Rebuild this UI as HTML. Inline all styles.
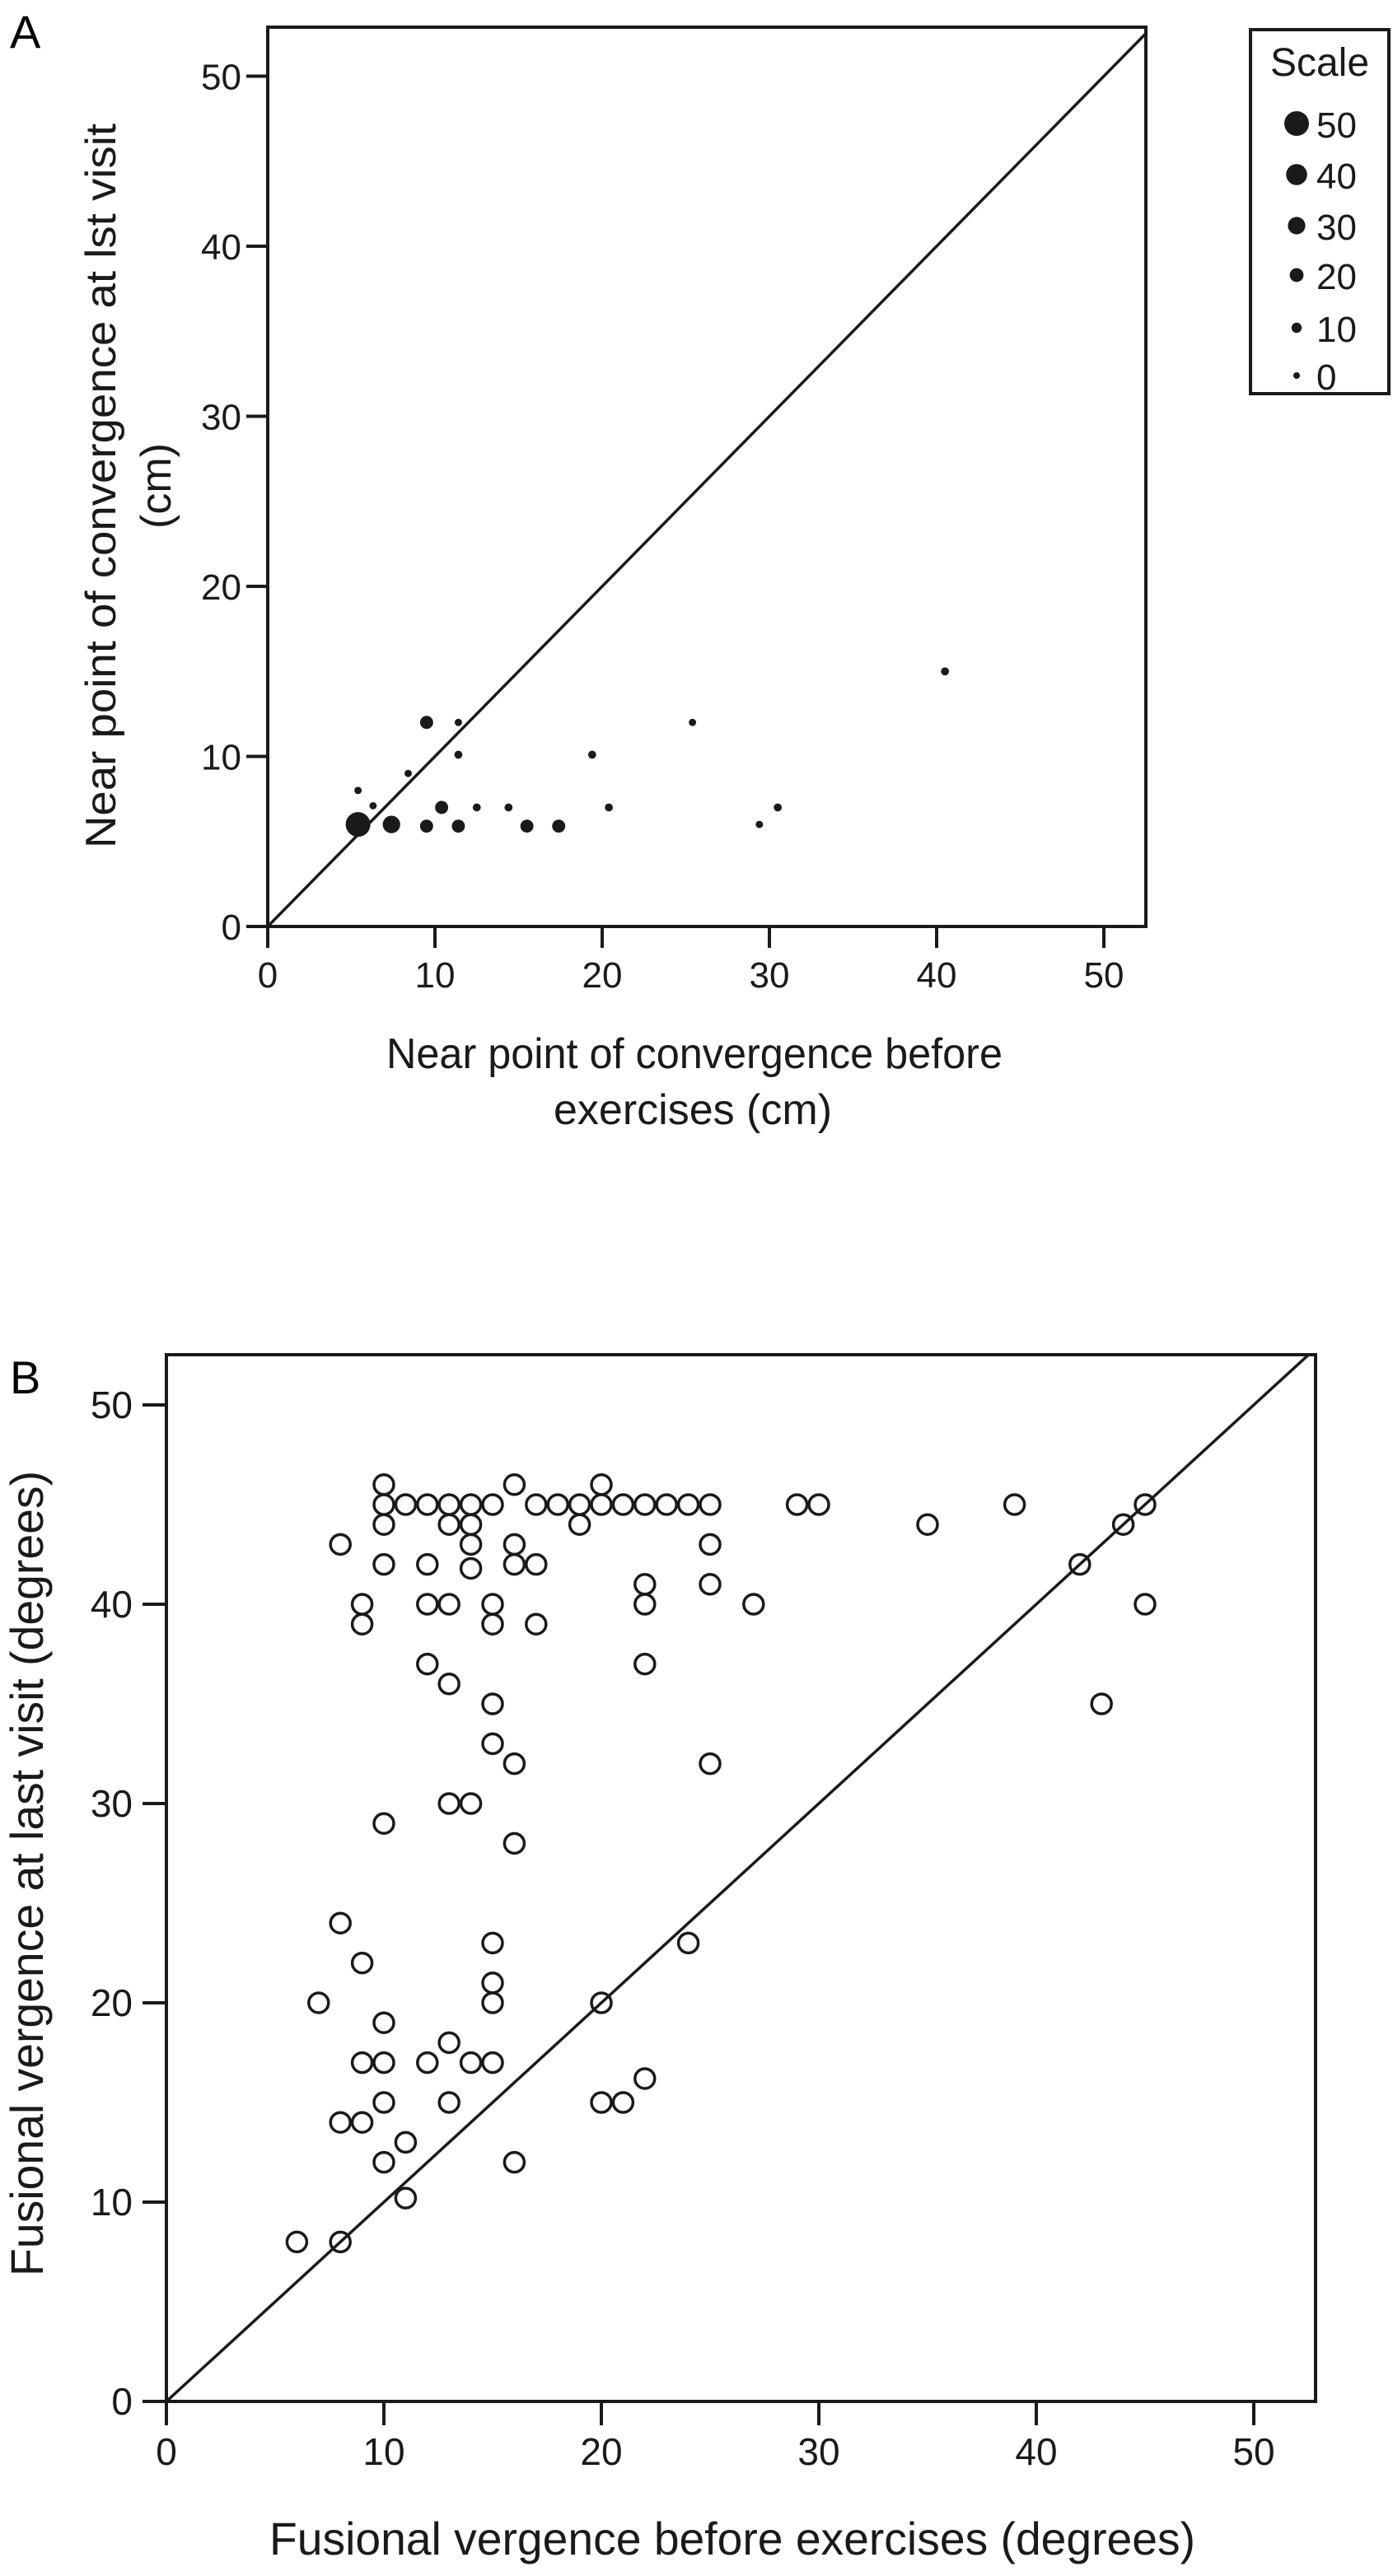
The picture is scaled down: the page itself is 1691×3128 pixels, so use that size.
<!DOCTYPE html>
<html><head><meta charset="utf-8"><style>
html,body{margin:0;padding:0;background:#fff;}
svg{display:block;font-family:"Liberation Sans",Arial,sans-serif;}
</style></head><body>
<svg id="fig" width="1691" height="3128" viewBox="0 0 1691 3128" xmlns="http://www.w3.org/2000/svg">
<rect width="1691" height="3128" fill="#fff"/>
<g id="panelA"></g>
<g id="panelB"></g>
</svg>
<script>
// Panel A data
const aX = [5.4, 7.4, 5.4, 6.3, 8.4, 9.5, 11.4, 11.4, 9.5, 10.4, 11.4, 12.5, 14.4, 15.5, 17.4, 19.4, 20.4, 25.4, 29.4, 30.5, 40.5];
const aY = [6.0, 6.0, 8.0, 7.1, 9.0, 12.0, 12.0, 10.1, 5.9, 7.0, 5.9, 7.0, 7.0, 5.9, 5.9, 10.1, 7.0, 12.0, 6.0, 7.0, 15.0];
const aSize = [50, 30, 2, 2, 2, 18, 2, 4, 18, 18, 18, 4, 4, 18, 18, 4, 4, 2, 2, 4, 4];
const aTicks = [0, 10, 20, 30, 40, 50];
const legendVals = [50, 40, 30, 20, 10, 0];
// Panel B data
const bX = [10,10,11,12,13,14,15,16,17,18,19,20,20,21,22,23,24,25,29,30,39,45,
 10,13,14,19,35,44, 8,14,16,25, 10,12,14,16,17,42, 22,25, 9,12,13,15,22,27,45,
 9,15,17, 12,22, 13, 15,43, 15, 16,25, 13,14, 10, 16,
 8, 15,24, 9, 15, 7,15,20, 10, 13, 9,10,12,14,15, 22, 10,13,20,21, 8,9, 11, 10,16, 11, 6,8];
const bY = [46,45,45,45,45,45,45,46,45,45,45,46,45,45,45,45,45,45,45,45,45,45,
 44,44,44,44,44,44, 43,43,43,43, 42,42,41.8,42,42,42, 41,41, 40,40,40,40,40,40,40,
 39,39,39, 37,37, 36, 35,35, 33, 32,32, 30,30, 29, 28,
 24, 23,23, 22, 21, 20,20,20, 19, 18, 17,17,17,17,17, 16.2, 15,15,15,15, 14,14, 13, 12,12, 10.2, 8,8];
const bTicks = [0, 10, 20, 30, 40, 50];

const NS = "http://www.w3.org/2000/svg";
function mk(parent, tag, attrs, text) {
  const e = document.createElementNS(NS, tag);
  for (const k in attrs) e.setAttribute(k, attrs[k]);
  if (text !== undefined) e.textContent = text;
  parent.appendChild(e);
  return e;
}

// ---------- Panel A ----------
(function () {
  const g = document.getElementById('panelA');
  const L = 325, R = 1391, T = 33, B = 1125;
  const sx = v => L + v * 20.3;
  const sy = v => B - v * 20.65;
  const rad = s => 4 + s * 0.22;
  const lab = mk(g, 'text', {x: 12, y: 58, 'font-size': 56}, 'A');
  
  
  const box = mk(g, 'rect', {x: L, y: T, width: R - L, height: B - T, fill: 'none', stroke: '#1a1a1a', 'stroke-width': 4});
  
  
  const dmax = Math.min((R - L) / 20.3, (B - T) / 20.65);
  const diag = mk(g, 'line', {x1: sx(0), y1: sy(0), x2: sx(dmax), y2: sy(dmax), stroke: '#1a1a1a', 'stroke-width': 3.5});
  
  
  aTicks.forEach(t => {
    const tk = mk(g, 'line', {x1: L - 26, y1: sy(t), x2: L, y2: sy(t), stroke: '#1a1a1a', 'stroke-width': 4});
    
    
    const tl = mk(g, 'text', {x: L - 32, y: sy(t) + 16, 'font-size': 44, 'text-anchor': 'end', fill: '#1a1a1a'}, String(t));
    
    
    const tx = mk(g, 'line', {x1: sx(t), y1: B, x2: sx(t), y2: B + 26, stroke: '#1a1a1a', 'stroke-width': 4});
    
    
    const xl = mk(g, 'text', {x: sx(t), y: B + 74, 'font-size': 44, 'text-anchor': 'middle', fill: '#1a1a1a'}, String(t));
    
    
  });
  aX.forEach((x, i) => {
    const c = mk(g, 'circle', {cx: sx(x), cy: sy(aY[i]), r: rad(aSize[i]), fill: '#1a1a1a'});
    
    
  });
  const yt = mk(g, 'text', {transform: 'translate(140,590) rotate(-90)', 'font-size': 52, 'text-anchor': 'middle', fill: '#1a1a1a', textLength: 880, lengthAdjust: 'spacingAndGlyphs'}, 'Near point of convergence at lst visit');
  
  
  const yt2 = mk(g, 'text', {transform: 'translate(207,590) rotate(-90)', 'font-size': 52, 'text-anchor': 'middle', fill: '#1a1a1a'}, '(cm)');
  
  
  const xt = mk(g, 'text', {x: 843, y: 1297, 'font-size': 52, 'text-anchor': 'middle', fill: '#1a1a1a', textLength: 748, lengthAdjust: 'spacingAndGlyphs'}, 'Near point of convergence before');
  
  
  const xt2 = mk(g, 'text', {x: 841, y: 1365, 'font-size': 52, 'text-anchor': 'middle', fill: '#1a1a1a'}, 'exercises (cm)');
  
  
  // legend
  const lg = mk(g, 'g', {});
  
  
  mk(lg, 'rect', {x: 1518, y: 36, width: 168, height: 442, fill: '#fff', stroke: '#1a1a1a', 'stroke-width': 4});
  const lt = mk(lg, 'text', {x: 1602, y: 92, 'font-size': 48, 'text-anchor': 'middle', fill: '#1a1a1a'}, 'Scale');
  
  
  const rowsY = [150, 212, 274, 334, 398, 456];
  legendVals.forEach((v, i) => {
    const c = mk(lg, 'circle', {cx: 1574, cy: rowsY[i], r: rad(v), fill: '#1a1a1a'});
    
    
    const t = mk(lg, 'text', {x: 1598, y: rowsY[i] + 17, 'font-size': 44, fill: '#1a1a1a'}, String(v));
    
    
  });
})();

// ---------- Panel B ----------
(function () {
  const g = document.getElementById('panelB');
  const L = 202, R = 1597, T = 1645, B = 2916;
  const sx = v => L + v * 26.4;
  const sy = v => B - v * 24.2;
  const lab = mk(g, 'text', {x: 12, y: 1692, 'font-size': 56}, 'B');
  
  
  const box = mk(g, 'rect', {x: L, y: T, width: R - L, height: B - T, fill: 'none', stroke: '#1a1a1a', 'stroke-width': 4});
  
  
  const dmax = Math.min((R - L) / 26.4, (B - T) / 24.2);
  const diag = mk(g, 'line', {x1: sx(0), y1: sy(0), x2: sx(dmax), y2: sy(dmax), stroke: '#1a1a1a', 'stroke-width': 3.5});
  
  
  bTicks.forEach(t => {
    const tk = mk(g, 'line', {x1: L - 29, y1: sy(t), x2: L, y2: sy(t), stroke: '#1a1a1a', 'stroke-width': 4});
    
    
    const tl = mk(g, 'text', {x: L - 41, y: sy(t) + 16, 'font-size': 46, 'text-anchor': 'end', fill: '#1a1a1a'}, String(t));
    
    
    const tx = mk(g, 'line', {x1: sx(t), y1: B, x2: sx(t), y2: B + 29, stroke: '#1a1a1a', 'stroke-width': 4});
    
    
    const xl = mk(g, 'text', {x: sx(t), y: B + 77, 'font-size': 46, 'text-anchor': 'middle', fill: '#1a1a1a'}, String(t));
    
    
  });
  bX.forEach((x, i) => {
    const c = mk(g, 'circle', {cx: sx(x), cy: sy(bY[i]), r: 12, fill: 'none', stroke: '#1a1a1a', 'stroke-width': 3.5});
    
    
  });
  const yt = mk(g, 'text', {transform: 'translate(52,2275) rotate(-90)', 'font-size': 56, 'text-anchor': 'middle', fill: '#1a1a1a', textLength: 978, lengthAdjust: 'spacingAndGlyphs'}, 'Fusional vergence at last visit (degrees)');
  
  
  const xt = mk(g, 'text', {x: 889, y: 3102, 'font-size': 56, 'text-anchor': 'middle', fill: '#1a1a1a', textLength: 1124, lengthAdjust: 'spacingAndGlyphs'}, 'Fusional vergence before exercises (degrees)');
  
  
})();
</script>
</body></html>
